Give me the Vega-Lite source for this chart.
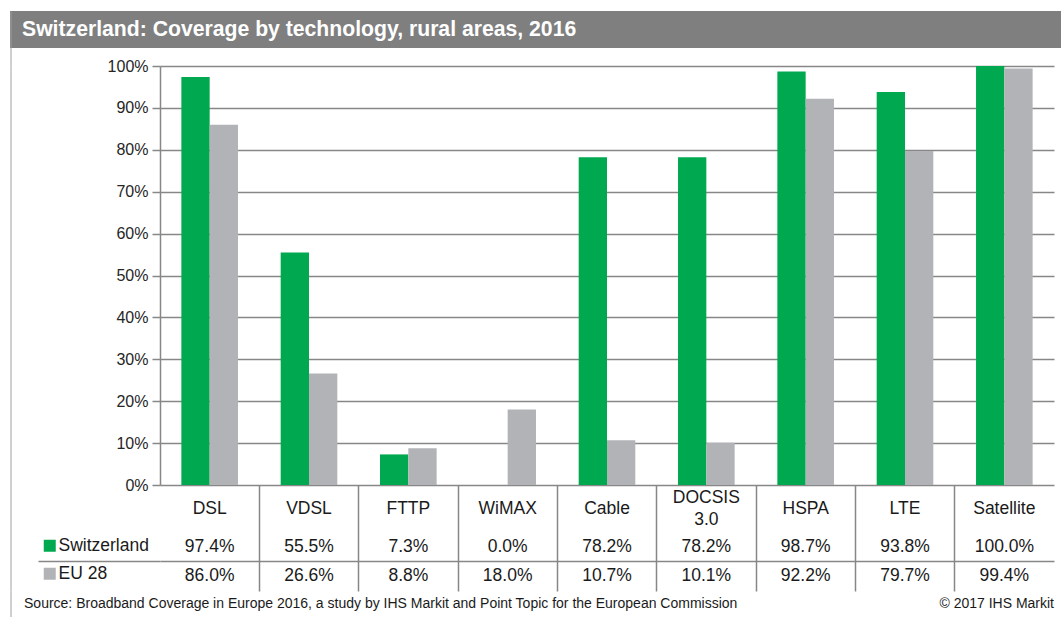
{
  "$schema": "https://vega.github.io/schema/vega-lite/v6.json",
  "padding": {"left": 10, "top": 11, "right": 0, "bottom": 0},
  "background": "white",
  "bounds": "full",
  "spacing": -8,
  "config": {"view": {"stroke": null}, "font": "Liberation Sans"},
  "datasets": {
    "cov": [
      {"tech": "DSL", "series": "Switzerland", "value": 0.974},
      {"tech": "DSL", "series": "EU 28", "value": 0.86},
      {"tech": "VDSL", "series": "Switzerland", "value": 0.555},
      {"tech": "VDSL", "series": "EU 28", "value": 0.266},
      {"tech": "FTTP", "series": "Switzerland", "value": 0.073},
      {"tech": "FTTP", "series": "EU 28", "value": 0.088},
      {"tech": "WiMAX", "series": "Switzerland", "value": 0.0},
      {"tech": "WiMAX", "series": "EU 28", "value": 0.18},
      {"tech": "Cable", "series": "Switzerland", "value": 0.782},
      {"tech": "Cable", "series": "EU 28", "value": 0.107},
      {"tech": "DOCSIS 3.0", "series": "Switzerland", "value": 0.782},
      {"tech": "DOCSIS 3.0", "series": "EU 28", "value": 0.101},
      {"tech": "HSPA", "series": "Switzerland", "value": 0.987},
      {"tech": "HSPA", "series": "EU 28", "value": 0.922},
      {"tech": "LTE", "series": "Switzerland", "value": 0.938},
      {"tech": "LTE", "series": "EU 28", "value": 0.797},
      {"tech": "Satellite", "series": "Switzerland", "value": 1.0},
      {"tech": "Satellite", "series": "EU 28", "value": 0.994}
    ]
  },
  "vconcat": [
    {
      "width": 1051,
      "height": 55,
      "data": {"values": [{"slot": "title", "t": "Switzerland: Coverage by technology, rural areas, 2016"}]},
      "encoding": {
        "y": {"field": "slot", "type": "nominal",
              "scale": {"type": "band", "paddingInner": 0, "paddingOuter": 0.2432, "align": 0},
              "axis": {"title": null, "labels": false, "ticks": false, "grid": false,
                       "domainColor": "#a0a0a0", "domainWidth": 1, "offset": -0.5}}
      },
      "layer": [
        {
          "mark": {"type": "rect", "color": "#7f7f7f"}
        },
        {
          "mark": {"type": "text", "align": "left", "baseline": "middle", "color": "white", "fontSize": 21.2, "fontWeight": "bold"},
          "encoding": {
            "x": {"field": "slot", "type": "nominal", "bandPosition": 0, "axis": null,
                  "scale": {"type": "band", "paddingInner": 0, "paddingOuter": 0.005775, "align": 1}},
            "text": {"field": "t"}
          }
        }
      ]
    },
    {
      "bounds": "full",
      "spacing": 0,
      "vconcat": [
        {
          "bounds": "flush",
          "spacing": 0,
          "hconcat": [
            {
              "width": 150,
              "height": 525,
              "data": {"values": []},
              "mark": "point",
              "encoding": {
                "y": {"field": "v", "type": "quantitative", "scale": {"domain": [0, 1]},
                      "axis": {"title": null, "labels": false, "ticks": false, "grid": false,
                               "domainColor": "#a0a0a0", "domainWidth": 1, "offset": -0.5}}
              }
            },
            {
              "bounds": "flush",
              "spacing": 0,
              "resolve": {"scale": {"color": "independent"}, "legend": {"color": "independent"}},
              "vconcat": [
                {
                  "width": 894,
                  "height": 419,
                  "data": {"name": "cov"},
                  "mark": {"type": "bar"},
                  "encoding": {
                    "x": {
                      "field": "tech", "type": "nominal",
                      "sort": ["DSL", "VDSL", "FTTP", "WiMAX", "Cable", "DOCSIS 3.0", "HSPA", "LTE", "Satellite"],
                      "scale": {"paddingInner": 0.43, "paddingOuter": 0.215},
                      "axis": {
                        "title": null, "orient": "bottom", "labelAngle": 0, "domain": false, "ticks": false,
                        "labelPadding": {"condition": {"test": "datum.value === 'DOCSIS 3.0'", "value": 12}, "value": 23},
                        "labelBaseline": "middle", "labelFontSize": 17.5, "labelColor": "#1a1a1a",
                        "labelLineHeight": 22, "grid": false,
                        "labelExpr": "datum.value === 'DOCSIS 3.0' ? ['DOCSIS', '3.0'] : datum.value"
                      }
                    },
                    "xOffset": {
                      "field": "series", "type": "nominal", "sort": ["Switzerland", "EU 28"],
                      "scale": {"paddingInner": 0, "paddingOuter": 0}
                    },
                    "y": {
                      "field": "value", "type": "quantitative",
                      "scale": {"domain": [0, 1]},
                      "axis": {
                        "title": null,
                        "values": [0, 0.1, 0.2, 0.3, 0.4, 0.5, 0.6, 0.7, 0.8, 0.9, 1.0],
                        "format": ".0%", "grid": true, "gridColor": "#878787", "gridWidth": 1.5,
                        "domainColor": "#878787", "domainWidth": 1.5,
                        "tickColor": "#878787", "tickWidth": 1.5, "tickSize": 8,
                        "labelPadding": 4, "labelFontSize": 16, "labelColor": "#262626"
                      }
                    },
                    "color": {
                      "field": "series", "type": "nominal",
                      "scale": {"domain": ["Switzerland", "EU 28"], "range": ["#00A94F", "#B1B3B6"]},
                      "legend": {
                        "orient": "none", "legendX": -119, "legendY": 471, "title": null,
                        "symbolType": "square", "symbolSize": 144, "symbolStrokeWidth": 0, "symbolOpacity": 1,
                        "labelFontSize": 17.5, "labelColor": "#1a1a1a", "rowPadding": 9, "labelOffset": 0, "padding": 0
                      }
                    }
                  }
                },
                {
                  "width": 894,
                  "height": 106,
                  "data": {"name": "cov"},
                  "mark": {"type": "text", "baseline": "middle", "fontSize": 17.5, "color": "#1a1a1a"},
                  "encoding": {
                    "x": {
                      "field": "tech", "type": "nominal",
                      "sort": ["DSL", "VDSL", "FTTP", "WiMAX", "Cable", "DOCSIS 3.0", "HSPA", "LTE", "Satellite"],
                      "scale": {"type": "band", "paddingInner": 0, "paddingOuter": 0},
                      "axis": {
                        "title": null, "orient": "top", "labels": false, "ticks": false, "domain": false,
                        "grid": true, "bandPosition": 0, "gridColor": "#878787", "gridWidth": 1.5,
                        "gridOpacity": {"condition": {"test": "datum.value === 'DSL'", "value": 0}, "value": 1}
                      }
                    },
                    "y": {
                      "field": "series", "type": "nominal", "sort": ["Switzerland", "EU 28"],
                      "scale": {"type": "band", "paddingInner": 0, "paddingOuter": 0.7966, "align": 1},
                      "axis": {
                        "title": null, "labels": false, "domain": false,
                        "ticks": true, "tickSize": 122, "tickColor": "#878787", "tickWidth": 1.5, "bandPosition": 0,
                        "tickOpacity": {"condition": {"test": "datum.value === 'Switzerland'", "value": 0}, "value": 1},
                        "grid": true, "gridColor": "#878787", "gridWidth": 1.5,
                        "gridOpacity": {"condition": {"test": "datum.value === 'Switzerland'", "value": 0}, "value": 1}
                      }
                    },
                    "text": {"field": "value", "type": "quantitative", "format": ".1%"}
                  }
                }
              ]
            }
          ]
        },
        {
          "width": 1051,
          "height": 26,
          "data": {"values": [
            {"side": "left", "t": "Source: Broadband Coverage in Europe 2016, a study by IHS Markit and Point Topic for the European Commission"},
            {"side": "right", "t": "© 2017 IHS Markit"}
          ]},
          "encoding": {
            "y": {"datum": "footer", "type": "nominal",
                  "axis": {"title": null, "labels": false, "ticks": false, "grid": false,
                           "domainColor": "#a0a0a0", "domainWidth": 1, "offset": -0.5}},
            "text": {"field": "t"}
          },
          "layer": [
            {
              "transform": [{"filter": "datum.side === 'left'"}],
              "mark": {"type": "text", "align": "left", "baseline": "middle", "fontSize": 14, "color": "#1a1a1a"},
              "encoding": {
                "x": {"field": "side", "type": "nominal", "bandPosition": 0, "axis": null,
                      "scale": {"type": "band", "domain": ["left", "right"], "paddingInner": 0, "paddingOuter": 0.02039, "align": 0.6667}}
              }
            },
            {
              "transform": [{"filter": "datum.side === 'right'"}],
              "mark": {"type": "text", "align": "right", "baseline": "middle", "fontSize": 14, "color": "#1a1a1a"},
              "encoding": {
                "x": {"field": "side", "type": "nominal", "bandPosition": 1, "axis": null,
                      "scale": {"type": "band", "domain": ["left", "right"], "paddingInner": 0, "paddingOuter": 0.02039, "align": 0.6667}}
              }
            }
          ]
        }
      ]
    }
  ]
}
